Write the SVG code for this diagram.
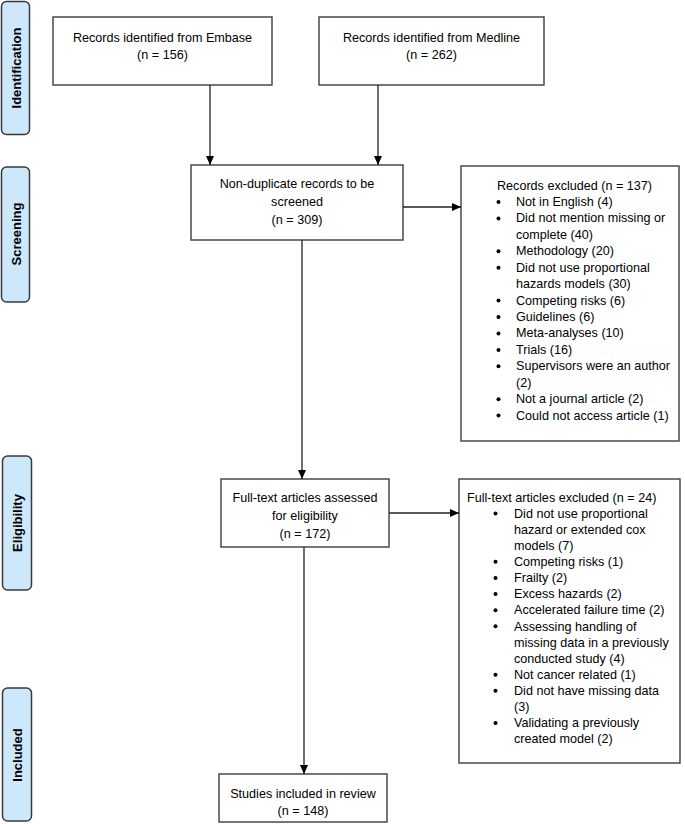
<svg xmlns="http://www.w3.org/2000/svg" width="685" height="824" viewBox="0 0 685 824">
<style>
.phase{fill:#cde8fb;stroke:#3a3a3a;stroke-width:1.5}
.ph{font-family:"Liberation Sans",Arial,sans-serif;font-size:13px;font-weight:bold;fill:#000;text-anchor:middle;dominant-baseline:central}
.box{fill:#fff;stroke:#3c3c3c;stroke-width:1.4}
.t{font-family:"Liberation Sans",Arial,sans-serif;font-size:12.6px;fill:#000}
.c{text-anchor:middle}
.ln{stroke:#222;stroke-width:1.3;fill:none}
.bul{fill:#000}
</style>
<defs>
<marker id="ah" markerWidth="10" markerHeight="8" refX="9" refY="4" orient="auto" markerUnits="userSpaceOnUse">
<path d="M0,0 L9,4 L0,8 Z" fill="#000"/>
</marker>
</defs>
<rect width="685" height="824" fill="#fff"/>

<g id="phase-identification"><rect class="phase" x="1.5" y="1.5" width="28" height="133" rx="5"/><text class="ph" transform="translate(16,68) rotate(-90)">Identification</text></g>
<g id="phase-screening"><rect class="phase" x="1.5" y="167" width="28" height="135" rx="5"/><text class="ph" transform="translate(16,234) rotate(-90)">Screening</text></g>
<g id="phase-eligibility"><rect class="phase" x="2.5" y="456" width="29" height="134" rx="5"/><text class="ph" transform="translate(17,523) rotate(-90)">Eligibility</text></g>
<g id="phase-included"><rect class="phase" x="2.5" y="688" width="29" height="133" rx="5"/><text class="ph" transform="translate(17,755) rotate(-90)">Included</text></g>

<g id="embase"><rect class="box" x="53" y="17" width="219" height="68"/>
<text class="t c" x="162.5" y="41.5">Records identified from Embase</text>
<text class="t c" x="162.5" y="58.5">(n = 156)</text></g>

<g id="medline"><rect class="box" x="319" y="17" width="225" height="68"/>
<text class="t c" x="431.5" y="41.5">Records identified from Medline</text>
<text class="t c" x="431.5" y="58.5">(n = 262)</text></g>

<g id="nondup"><rect class="box" x="191" y="165" width="212" height="75"/>
<text class="t c" x="297" y="187.5">Non-duplicate records to be</text>
<text class="t c" x="297" y="205.5">screened</text>
<text class="t c" x="297" y="223.5">(n = 309)</text></g>

<g id="excluded1"><rect class="box" x="461" y="166" width="218" height="275"/>
<text class="t" x="497" y="189.5">Records excluded (n = 137)</text>
<g class="bul">
<circle cx="498.5" cy="202" r="2"/><circle cx="498.5" cy="218.5" r="2"/><circle cx="498.5" cy="251.3" r="2"/><circle cx="498.5" cy="267.8" r="2"/><circle cx="498.5" cy="300.6" r="2"/><circle cx="498.5" cy="317" r="2"/><circle cx="498.5" cy="333.5" r="2"/><circle cx="498.5" cy="349.9" r="2"/><circle cx="498.5" cy="366.3" r="2"/><circle cx="498.5" cy="399.2" r="2"/><circle cx="498.5" cy="415.6" r="2"/>
</g>
<text class="t" x="516" y="205.9">Not in English (4)</text>
<text class="t" x="516" y="222.4">Did not mention missing or</text>
<text class="t" x="516" y="238.8">complete (40)</text>
<text class="t" x="516" y="255.2">Methodology (20)</text>
<text class="t" x="516" y="271.7">Did not use proportional</text>
<text class="t" x="516" y="288.1">hazards models (30)</text>
<text class="t" x="516" y="304.6">Competing risks (6)</text>
<text class="t" x="516" y="321">Guidelines (6)</text>
<text class="t" x="516" y="337.4">Meta-analyses (10)</text>
<text class="t" x="516" y="353.9">Trials (16)</text>
<text class="t" x="516" y="370.3">Supervisors were an author</text>
<text class="t" x="516" y="386.8">(2)</text>
<text class="t" x="516" y="403.2">Not a journal article (2)</text>
<text class="t" x="516" y="419.6">Could not access article (1)</text></g>

<g id="fulltext"><rect class="box" x="221" y="479" width="168" height="68"/>
<text class="t c" x="305" y="501.5">Full-text articles assessed</text>
<text class="t c" x="305" y="519.5">for eligibility</text>
<text class="t c" x="305" y="537.5">(n = 172)</text></g>

<g id="excluded2"><rect class="box" x="459" y="479" width="221" height="284"/>
<text class="t" x="467" y="501.5">Full-text articles excluded (n = 24)</text>
<g class="bul">
<circle cx="495.5" cy="513.4" r="2"/><circle cx="495.5" cy="561.8" r="2"/><circle cx="495.5" cy="577.9" r="2"/><circle cx="495.5" cy="594" r="2"/><circle cx="495.5" cy="610.2" r="2"/><circle cx="495.5" cy="626.3" r="2"/><circle cx="495.5" cy="674.7" r="2"/><circle cx="495.5" cy="690.8" r="2"/><circle cx="495.5" cy="723" r="2"/>
</g>
<text class="t" x="514" y="517.6">Did not use proportional</text>
<text class="t" x="514" y="533.8">hazard or extended cox</text>
<text class="t" x="514" y="549.9">models (7)</text>
<text class="t" x="514" y="566">Competing risks (1)</text>
<text class="t" x="514" y="582.1">Frailty (2)</text>
<text class="t" x="514" y="598.3">Excess hazards (2)</text>
<text class="t" x="514" y="614.4">Accelerated failure time (2)</text>
<text class="t" x="514" y="630.5">Assessing handling of</text>
<text class="t" x="514" y="646.6">missing data in a previously</text>
<text class="t" x="514" y="662.8">conducted study (4)</text>
<text class="t" x="514" y="678.9">Not cancer related (1)</text>
<text class="t" x="514" y="695">Did not have missing data</text>
<text class="t" x="514" y="711.1">(3)</text>
<text class="t" x="514" y="727.3">Validating a previously</text>
<text class="t" x="514" y="743.4">created model (2)</text></g>

<g id="included"><rect class="box" x="219" y="774" width="168" height="48"/>
<text class="t c" x="303" y="797.5">Studies included in review</text>
<text class="t c" x="303" y="814.5">(n = 148)</text></g>

<g id="connectors">
<line class="ln" x1="210" y1="85" x2="210" y2="165" marker-end="url(#ah)"/>
<line class="ln" x1="378" y1="85" x2="378" y2="165" marker-end="url(#ah)"/>
<line class="ln" x1="403" y1="207" x2="461" y2="207" marker-end="url(#ah)"/>
<line class="ln" x1="302" y1="240" x2="302" y2="479" marker-end="url(#ah)"/>
<line class="ln" x1="389" y1="513" x2="459" y2="513" marker-end="url(#ah)"/>
<line class="ln" x1="304" y1="547" x2="304" y2="774" marker-end="url(#ah)"/>
</g>
</svg>
